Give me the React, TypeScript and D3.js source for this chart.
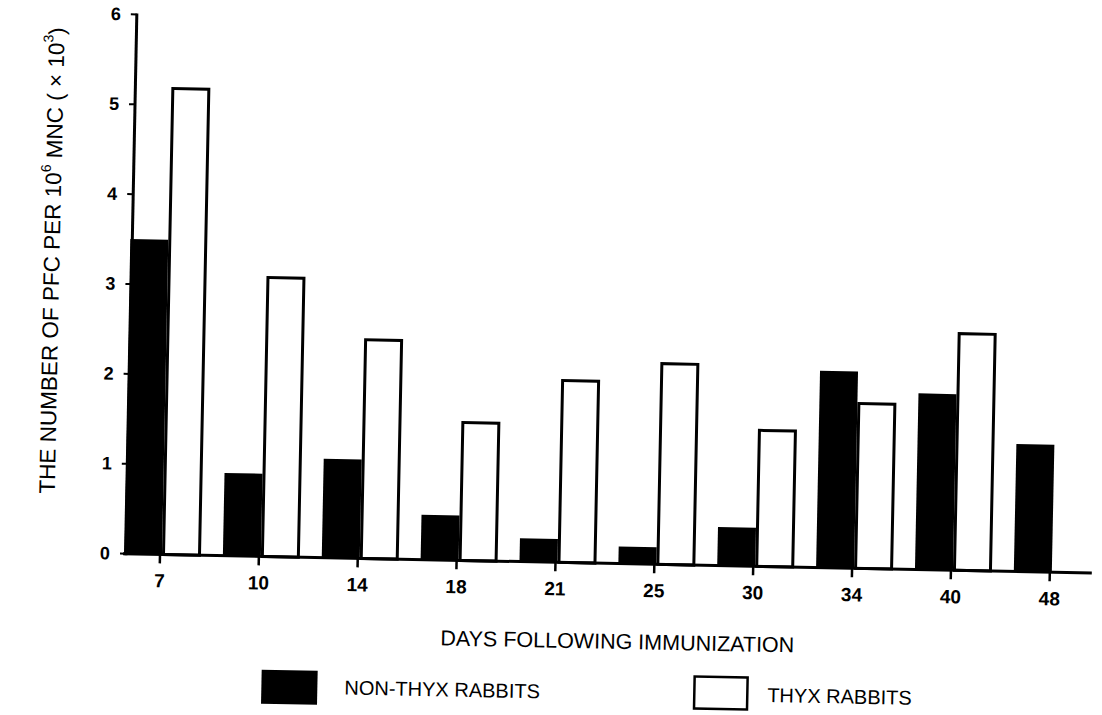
import React from "react";
import * as d3 from "d3";

const days = ["7", "10", "14", "18", "21", "25", "30", "34", "40", "48"];
const nonThyx = [3.5, 0.92, 1.1, 0.5, 0.26, 0.19, 0.43, 2.19, 1.96, 1.42];
const thyx: (number | null)[] = [5.2, 3.12, 2.45, 1.55, 2.04, 2.25, 1.53, 1.85, 2.65, null];
const yTicks = [0, 1, 2, 3, 4, 5, 6];
const xTitle = "DAYS FOLLOWING IMMUNIZATION";
const legendLabels = ["NON-THYX RABBITS", "THYX RABBITS"];

export default function App() {
  const W = 1102;
  const H = 715;
  const ox = 126;
  const oy = 553.7;
  const x = d3.scalePoint<string>().domain(days).range([160, 1050]);
  const y = d3.scaleLinear().domain([0, 6]).range([oy, oy - 6 * 89.9]);
  const font = "'Liberation Sans', Arial, Helvetica, sans-serif";

  return (
    <svg
      width={W}
      height={H}
      viewBox={`0 0 ${W} ${H}`}
      style={{ position: "absolute", left: 0, top: 0, background: "#fff" }}
    >
      <rect x={0} y={0} width={W} height={H} fill="#fff" />
      <g transform={`rotate(1.15 ${ox} ${oy})`} fontFamily={font} fill="#000">
        {/* bars */}
        {days.map((d, i) => {
          const c = x(d)!;
          return (
            <g key={d}>
              <rect
                x={c - 36}
                y={y(nonThyx[i])}
                width={38}
                height={y(0) - y(nonThyx[i])}
                fill="#000"
              />
              {thyx[i] != null && (
                <rect
                  x={c + 3.5}
                  y={y(thyx[i] as number) + 1.5}
                  width={36}
                  height={y(0) - y(thyx[i] as number) - 1.5}
                  fill="#fff"
                  stroke="#000"
                  strokeWidth={3}
                />
              )}
            </g>
          );
        })}

        {/* y axis */}
        <line x1={ox} y1={y(0) + 1.5} x2={ox} y2={y(6) - 1} stroke="#000" strokeWidth={3} />
        {yTicks.map((t) => (
          <g key={t}>
            <line x1={ox - 6} x2={ox} y1={y(t)} y2={y(t)} stroke="#000" strokeWidth={2} />
            <text
              x={ox - 16}
              y={y(t)}
              textAnchor="end"
              dominantBaseline="central"
              fontSize={18}
              fontWeight="bold"
            >
              {t}
            </text>
          </g>
        ))}

        {/* x axis */}
        <line x1={ox - 3} y1={y(0)} x2={1092} y2={y(0)} stroke="#000" strokeWidth={3} />
        {days.map((d) => (
          <g key={d}>
            <line x1={x(d)!} x2={x(d)!} y1={y(0)} y2={y(0) + 9} stroke="#000" strokeWidth={2.5} />
            <text
              x={x(d)!}
              y={y(0) + 33}
              textAnchor="middle"
              fontSize={19}
              fontWeight="bold"
            >
              {d}
            </text>
          </g>
        ))}

        {/* y title */}
        <text
          transform={`translate(46, 262) rotate(-90)`}
          textAnchor="middle"
          dominantBaseline="central"
          fontSize={22.5}
        >
          THE NUMBER OF PFC PER 10
          <tspan dy={-8} fontSize={14}>6</tspan>
          <tspan dy={8}> MNC ( × 10</tspan>
          <tspan dy={-8} fontSize={14}>3</tspan>
          <tspan dy={8}>)</tspan>
        </text>

        {/* x title */}
        <text x={442} y={632} fontSize={21.5} dominantBaseline="central">
          {xTitle}
        </text>

        {/* legend */}
        <rect x={264} y={667} width={56} height={34} fill="#000" />
        <text x={347} y={683} fontSize={20} dominantBaseline="central">
          {legendLabels[0]}
        </text>
        <rect x={697} y={665} width={53} height={32} fill="#fff" stroke="#000" strokeWidth={2.5} />
        <text x={770} y={682} fontSize={20} dominantBaseline="central">
          {legendLabels[1]}
        </text>
      </g>
    </svg>
  );
}
